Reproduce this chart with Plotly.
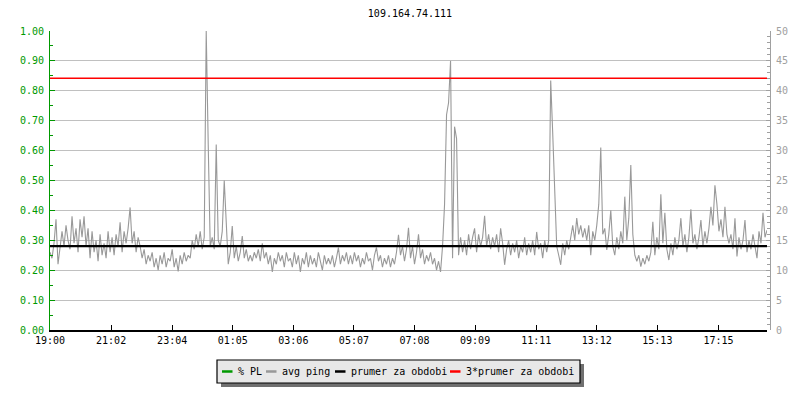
import plotly.graph_objects as go

# ---------------- data ----------------
title_text = "109.164.74.111"
start_clock = "19:00"
sample_step_min = 4  # one sample every 4 minutes

# average ping (ms)
avg_ping = [
    13.0, 12.0, 14.5, 18.5, 11.0, 13.5, 16.5, 14.0, 17.5, 15.0,
    13.5, 19.0, 14.5, 17.0, 13.0, 18.5, 15.5, 19.0, 14.0, 17.0,
    12.0, 16.5, 13.0, 15.0, 11.5, 16.0, 12.5, 14.5, 12.0, 16.5,
    13.0, 15.5, 12.5, 16.0, 14.0, 18.0, 13.0, 16.5, 14.5, 17.0,
    20.5, 14.5, 16.5, 13.0, 15.5, 14.0, 12.0, 13.5, 11.0, 12.5,
    11.5, 13.0, 10.5, 12.0, 10.0, 12.5, 11.0, 13.0, 10.5, 12.0,
    11.5, 13.5, 10.5, 12.0, 9.8, 12.5, 11.0, 13.0, 11.5, 12.5,
    12.0, 15.0, 13.5, 16.0, 14.0, 16.5, 13.5, 15.5, 50.0, 31.0,
    14.0, 15.5, 13.5, 31.0, 15.0, 14.0, 16.5, 25.0, 17.0, 11.0,
    13.0, 17.4, 12.0, 14.0, 11.5, 13.0, 15.7, 12.0, 13.5, 11.5,
    12.5, 11.5, 13.0, 12.0, 13.5, 11.5, 14.5, 12.0, 13.0, 11.0,
    12.5, 9.7, 12.0, 11.0, 13.0, 11.5, 12.5, 10.5, 13.0, 11.5,
    12.0, 10.5, 13.0, 11.0, 12.5, 9.7, 12.0, 11.0, 13.0, 10.5,
    12.5, 11.0, 12.0, 10.5, 13.0, 11.5, 10.0, 12.5, 11.0, 12.0,
    11.0, 12.5, 10.5, 12.0, 13.8, 11.0, 12.5, 11.5, 13.0, 11.0,
    12.5, 11.0, 13.0, 11.5, 12.5, 10.5, 12.0, 11.0, 13.0, 11.5,
    12.0, 10.0, 12.5, 13.8, 11.5, 12.5, 10.5, 12.0, 11.0, 12.5,
    10.5, 12.0, 11.0, 13.0, 15.9, 12.5, 14.0, 11.5, 13.5, 17.1,
    12.0, 14.0, 11.0, 13.0, 16.0, 12.0, 13.5, 11.0, 12.5, 11.5,
    13.0, 11.0, 12.0, 10.0, 11.5, 9.7, 14.0, 21.0, 36.0, 38.0,
    45.0, 12.0, 34.0, 32.0, 12.5, 15.5, 13.0, 15.0, 12.5, 16.0,
    13.5, 15.5, 17.0, 13.0, 16.0, 14.0, 15.5, 19.1, 14.0, 16.0,
    13.5, 15.5, 14.0, 16.0, 13.0, 17.0, 14.5, 10.9, 13.5, 15.0,
    12.5, 14.5, 13.0, 15.0, 12.0, 14.0, 13.0, 15.5, 12.5, 14.5,
    13.0, 15.0, 12.5, 16.4, 13.5, 14.5, 12.0, 15.0, 13.0, 15.0,
    41.7, 33.0, 25.0, 14.0, 12.5, 10.9, 14.5, 12.5, 15.0, 13.5,
    15.5, 17.5, 15.0, 18.7, 16.0, 17.5, 15.5, 17.0, 15.0, 17.5,
    12.5, 16.5, 15.0, 17.5, 21.0, 30.5, 16.0, 17.0, 13.4, 16.0,
    20.0, 14.0, 12.5, 15.5, 13.5, 16.5, 14.5, 22.3, 15.0, 18.7,
    27.6, 16.0, 12.5, 11.5, 12.5, 10.6, 12.0, 11.0, 12.5, 11.5,
    13.0, 18.1, 12.5, 15.5, 13.5, 22.7, 14.5, 19.6, 13.5, 11.7,
    14.5, 12.5, 15.5, 13.5, 15.0, 18.7, 14.0, 16.0, 13.0, 15.5,
    20.2, 14.5, 16.0, 13.5, 15.5, 18.4, 14.0, 16.5, 14.5, 17.0,
    20.6, 17.5, 24.2, 21.0, 16.5, 18.5, 15.5, 20.6, 16.0, 14.5,
    16.0, 13.5, 18.7, 12.3, 15.5, 13.5, 15.0, 18.4, 13.0, 15.0,
    13.5, 16.0, 14.0, 12.0, 16.5, 14.5, 19.6, 15.5, 16.7,
]

# packet loss (%): no loss was recorded in the period
packet_loss = []

period_mean = 14.03          # "prumer za obdobi" (ms)
mean_factor = 3              # "3*prumer za obdobi"

tick_labels = ["19:00", "21:02", "23:04", "01:05", "03:06", "05:07",
               "07:08", "09:09", "11:11", "13:12", "15:13", "17:15"]

legend_names = ["% PL", "avg ping", "prumer za obdobi", "3*prumer za obdobi"]
legend_colors = ["#009900", "#999999", "#000000", "#ff0000"]

# ---------------- helpers ----------------
def clock_to_min(label):
    h, m = map(int, label.split(":"))
    h0, m0 = map(int, start_clock.split(":"))
    return ((h * 60 + m) - (h0 * 60 + m0)) % 1440

times = [i * sample_step_min for i in range(len(avg_ping))]
tick_vals = [clock_to_min(t) for t in tick_labels]

FONT = "DejaVu Sans Mono"
GREEN = "#009900"
GRAY_AX = "#a0a0a0"

OFF = 8                      # page body margin of the html page
W, H = 800 - OFF, 400 - OFF
ML, MT = 50 - OFF, 31 - OFF  # plot area starts at window px (50, 31)
MR, MB = W - (770 - OFF), H - (330 - OFF)
PW = W - ML - MR
PH = H - MT - MB

def px(x):   # window pixel -> paper
    return (x - OFF - ML) / PW

def py(y):
    return (H - MB - (y - OFF)) / PH

# ---------------- figure ----------------
fig = go.Figure()

fig.add_trace(go.Scatter(
    x=times[:len(packet_loss)], y=packet_loss, yaxis="y", mode="lines",
    line=dict(color=GREEN, width=1), name="% PL",
))
fig.add_trace(go.Scatter(
    x=times, y=avg_ping, yaxis="y2", mode="lines",
    line=dict(color="#999999", width=1.1), name="avg ping",
))
fig.add_trace(go.Scatter(
    x=[times[0], times[-1]], y=[period_mean, period_mean], yaxis="y2",
    mode="lines", line=dict(color="#000000", width=2.2), name="prumer za obdobi",
))
fig.add_trace(go.Scatter(
    x=[times[0], times[-1]], y=[mean_factor * period_mean] * 2, yaxis="y2",
    mode="lines", line=dict(color="#ff0000", width=1.5), name="3*prumer za obdobi",
))

fig.update_layout(
    width=W, height=H,
    margin=dict(l=ML, r=MR, t=MT, b=MB, autoexpand=False),
    paper_bgcolor="white", plot_bgcolor="white",
    showlegend=False,
    font=dict(family=FONT, size=10, color="black"),
    title=dict(text=title_text, x=0.5, xref="paper", xanchor="center",
               y=1 - (13 - OFF) / H, yref="container", yanchor="middle",
               font=dict(family=FONT, size=10, color="black")),
    xaxis=dict(
        domain=[0, 717 / PW], range=[times[0], times[-1]],
        tickvals=tick_vals, ticktext=tick_labels,
        ticks="inside", ticklen=5, tickcolor="black", tickwidth=1,
        showline=True, linecolor="black", linewidth=1.5,
        showgrid=False, zeroline=False, automargin=False,
        tickfont=dict(family=FONT, size=10, color="black"),
    ),
    yaxis=dict(
        range=[0, 1], dtick=0.1, tickformat=".2f",
        ticks="inside", ticklen=5, tickcolor=GREEN, tickwidth=1,
        showline=True, linecolor=GREEN, linewidth=1,
        gridcolor="#c0c0c0", gridwidth=1, zeroline=False, automargin=False,
        tickfont=dict(family=FONT, size=10, color=GREEN),
        ticklabelstandoff=3,
        minor=dict(dtick=0.05, ticks="inside", ticklen=3, tickcolor=GREEN, showgrid=False),
    ),
    yaxis2=dict(
        overlaying="y", side="right", anchor="free", position=1,
        range=[0, 50], dtick=5,
        ticks="inside", ticklen=4, tickcolor=GRAY_AX, tickwidth=1,
        showline=True, linecolor=GRAY_AX, linewidth=1,
        showgrid=False, zeroline=False, automargin=False,
        tickfont=dict(family=FONT, size=10, color=GRAY_AX),
        ticklabelstandoff=3,
        minor=dict(dtick=1, ticks="inside", ticklen=3, tickcolor=GRAY_AX, showgrid=False),
    ),
)

# ---------------- manual legend ----------------
shapes = []
shapes.append(dict(type="rect", xref="paper", yref="paper",
                   x0=px(221), x1=px(584), y0=py(387), y1=py(364),
                   fillcolor="#707070", line=dict(width=0), layer="above"))
shapes.append(dict(type="rect", xref="paper", yref="paper",
                   x0=px(217), x1=px(580), y0=py(383), y1=py(360),
                   fillcolor="#e8e8e8", line=dict(color="black", width=1.2), layer="above"))

item_x = [222, 266, 335, 450]
ly = 371.5
annotations = []
for name, col, x0 in zip(legend_names, legend_colors, item_x):
    shapes.append(dict(type="line", xref="paper", yref="paper",
                       x0=px(x0), x1=px(x0 + 10.5), y0=py(ly), y1=py(ly),
                       line=dict(color=col, width=2.5), layer="above"))
    annotations.append(dict(text=name, xref="paper", yref="paper",
                            x=px(x0 + 14), y=py(ly - 0.5), xanchor="left", yanchor="middle",
                            showarrow=False, font=dict(family=FONT, size=10, color="black")))

fig.update_layout(shapes=shapes, annotations=annotations)

fig.write_html("out.html")
